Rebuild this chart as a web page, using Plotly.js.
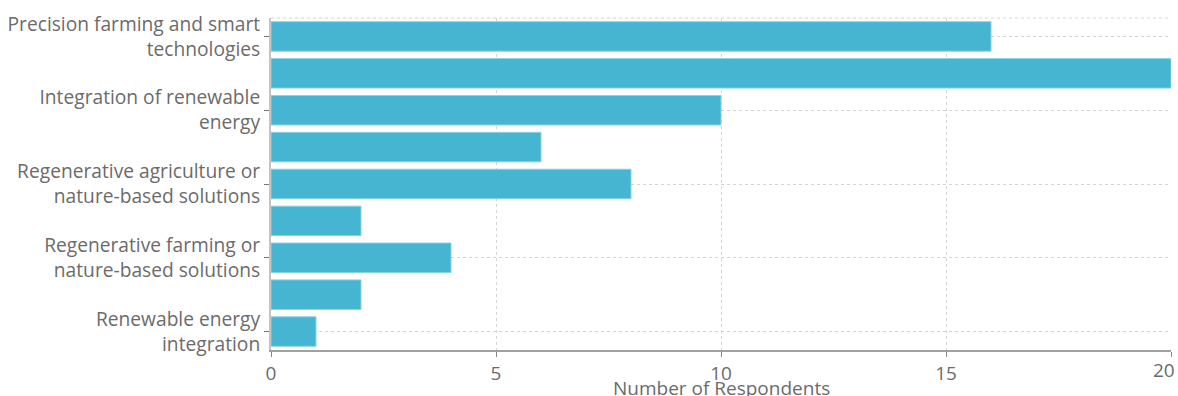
<!DOCTYPE html>
<html>
<head>
<meta charset="utf-8">
<script src="https://cdn.plot.ly/plotly-3.0.1.min.js"></script>
<style>html,body{margin:0;padding:0;background:#fff;}#chart{width:1178px;height:396px;}</style>
</head>
<body>
<div id="chart"></div>
<script>
// Bars from top to bottom; labels that are not shown in the reference are left empty
var categoryLabels = [
  "Precision farming and smart<br>technologies",
  "",
  "Integration of renewable<br>energy",
  "",
  "Regenerative agriculture or<br>nature-based solutions",
  "",
  "Regenerative farming or<br>nature-based solutions",
  "",
  "Renewable energy<br>integration"
];
var respondents = [16, 20, 10, 6, 8, 2, 4, 2, 1];
var xTickValues = [0, 5, 10, 15, 20];
var xTitle = "Number of Respondents";

var positions = categoryLabels.map(function(_, i){ return i; });
var tickVals = [], tickText = [];
categoryLabels.forEach(function(l, i){ if (l) { tickVals.push(i); tickText.push(l); } });

var font = "'Open Sans', 'Noto Sans', sans-serif";
var textColor = '#6b6b6b';
var lastTick = xTickValues[xTickValues.length - 1];
var xTickText = xTickValues.map(function(v, i){ return i === xTickValues.length - 1 ? '' : String(v); });

var trace = {
  type: 'bar',
  orientation: 'h',
  x: respondents,
  y: positions,
  marker: {color: '#46b5d1', line: {color: '#8ad2e3', width: 1}},
  hoverinfo: 'x'
};
var layout = {
  width: 1178, height: 396,
  margin: {l: 271, r: 7, t: 18, b: 46},
  bargap: 0.2,
  showlegend: false,
  plot_bgcolor: '#fff', paper_bgcolor: '#fff',
  font: {family: font, color: textColor, size: 19},
  xaxis: {
    range: [0, lastTick], tickmode: 'array', tickvals: xTickValues, ticktext: xTickText,
    showgrid: true, gridcolor: '#d4d4d4', griddash: '3px,3px', gridwidth: 1,
    zeroline: false,
    showline: true, linecolor: '#a0a0a0', linewidth: 2,
    ticks: 'outside', ticklen: 5, tickcolor: '#888', tickwidth: 1,
    tickfont: {size: 19, color: textColor}
  },
  yaxis: {
    range: [8.5, -0.5],
    tickmode: 'array', tickvals: tickVals, ticktext: tickText,
    showgrid: true, gridcolor: '#d4d4d4', griddash: '3px,3px', gridwidth: 1,
    zeroline: false,
    showline: true, linecolor: '#c4c4c4', linewidth: 2,
    ticks: 'outside', ticklen: 5, tickcolor: '#777', tickwidth: 1,
    ticklabeloverflow: 'allow',
    tickfont: {size: 19.2, color: textColor}
  },
  annotations: [{
    // last x tick label, kept inside the picture as in the reference
    text: String(lastTick), xref: 'x', yref: 'paper', x: lastTick, y: 0,
    xanchor: 'right', yanchor: 'top', xshift: 6, yshift: -5, showarrow: false,
    font: {size: 19, color: textColor}
  }, {
    // x-axis title, placed below the tick labels
    text: xTitle, xref: 'paper', yref: 'paper', x: 0.5, y: 0,
    xanchor: 'center', yanchor: 'top', yshift: -23, showarrow: false,
    font: {size: 19, color: textColor}
  }],
  shapes: [{
    type: 'line', xref: 'paper', yref: 'paper', x0: 0, x1: 1, y0: 1, y1: 1,
    line: {color: '#d4d4d4', width: 1, dash: '3px,3px'}, layer: 'below'
  }]
};
Plotly.newPlot('chart', [trace], layout, {displayModeBar: false, staticPlot: true});
</script>
</body>
</html>
